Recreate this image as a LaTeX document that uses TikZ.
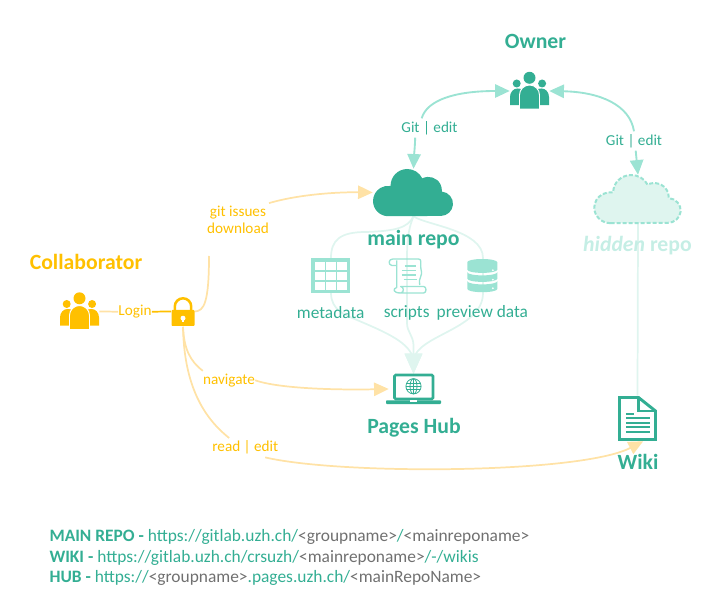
\documentclass[tikz,border=0pt]{standalone}
\usepackage{fontspec}
\setmainfont{Carlito}
\usepackage{tikz}
\usetikzlibrary{arrows.meta,backgrounds}

\definecolor{teal1}{HTML}{33AE93}
\definecolor{teal2}{HTML}{9BE3D3}
\definecolor{teal3}{HTML}{DFF5EF}
\definecolor{teal4}{HTML}{C5EEE5}
\definecolor{gold1}{HTML}{FFC000}
\definecolor{gold2}{HTML}{FFE2A6}
\definecolor{grey1}{HTML}{707070}

\tikzset{
    iconbox/.style 2 args={inner sep=0pt, minimum width=#1*.75pt, minimum height=#2*.75pt},
    title/.style={inner sep=0pt, font=\bfseries\fontsize{16.3}{18}\selectfont, text=teal1},
    caption/.style={inner sep=0pt, font=\fontsize{13}{15}\selectfont, text=teal1},
    tag/.style={inner xsep=0pt, inner ysep=2pt, font=\fontsize{11.4}{13}\selectfont, text=teal1},
    goldtag/.style={tag, text=gold1},
    urlline/.style={anchor=west, inner sep=0pt, font=\fontsize{13.05}{15}\selectfont, text=teal1},
    tealarrow/.style={draw=teal2, line width=1.4pt, -{Triangle[length=11pt,width=10pt]}},
    goldarrow/.style={draw=gold2, line width=1.3pt, -{Triangle[length=11pt,width=10pt]}},
    goldline/.style={draw=gold2, line width=1.3pt},
    paleline/.style={draw=teal3, line width=1.3pt},
    palearrow/.style={paleline, -{Triangle[length=15pt,width=13pt]}},
    pics/cloudicon/.style={code={
        \path[pic actions] (-25.3,-23.7) arc (270:81:15.2) arc (181:26:16.7)
            arc (117:-5:13.5) arc (85:-90:12.2) -- cycle;
    }},
    pics/peopleicon/.style={code={
        \path[fill=#1] (0,13.2) circle (6);
        \path[fill=#1] (-12.8,7.5) circle (4) (12.6,7.5) circle (4);
        \path[fill=#1] (-19.5,-14.2) -- (-19.5,-6) .. controls (-19.5,-1) and (-16,2.5) .. (-12,2.5)
            -- (-8,2) -- (-8,-14.2) -- cycle;
        \path[fill=#1] (19.5,-14.2) -- (19.5,-6) .. controls (19.5,-1) and (16,2.5) .. (12,2.5)
            -- (8,2) -- (8,-14.2) -- cycle;
        \path[fill=#1, draw=white, line width=.7pt] (-10,-18) -- (-10,-4) arc (180:0:10) -- (10,-18) -- cycle;
    }},
    pics/lockicon/.style={code={
        \draw[gold1, line width=1.9pt] (-8.2,1) -- (-8.2,5) arc (180:0:8.2) -- (8.2,1);
        \path[fill=gold1, rounded corners=.6pt] (-11.5,-14.5) rectangle (11.5,1.5);
        \path[fill=white] (0,-6.7) circle (2.5);
        \path[fill=white] (-1,-7) rectangle (1,-11);
    }},
    pics/tableicon/.style={code={
        \path[fill=teal2] (-19.5,-17.5) rectangle (19.5,17.5);
        \foreach \i in {0,1,2}
            \foreach \j in {0,1,2}
                \path[fill=white] (-15.5+\i*11.2,5.7-\j*9.7) rectangle ++(9.8,7.9);
    }},
    pics/scrollicon/.style={code={
        \begin{scope}[draw=teal2, line width=1pt, line join=round]
            \draw[teal2] (-14,16.5) -- (12,16.5) .. controls (15,16.5) and (14,12) .. (14,9)
                .. controls (14,5) and (16,3) .. (14,-1) .. controls (12,-4) and (13,-6) .. (13,-9.5);
            \draw[teal2] (-14,16.5) .. controls (-18,16.5) and (-19,11) .. (-15,10) -- (-10,10);
            \draw[teal2] (-10,15) -- (-10,-12) .. controls (-14,-13) and (-14,-17.5) .. (-6,-17.5)
                -- (17,-17.5) .. controls (20,-17.5) and (20,-11) .. (17,-11) -- (-6,-11)
                .. controls (-3,-11) and (-2,-17) .. (-6,-17.5);
            \foreach \ypos/\xa/\xb in {9.5/-2/9, 5/-5/9, 0.5/-5/9, -4/-3/10}
                \draw[teal2, line width=.8pt] (\xa,\ypos) -- (\xb,\ypos);
        \end{scope}
    }},
    pics/dbicon/.style={code={
        \path[fill=teal2] (-15,13.5) arc (180:0:15 and 3.2) -- (15,6) arc (0:-180:15 and 3.2) -- cycle;
        \path[fill=teal2] (-15,3.5) arc (180:360:15 and 3.2) -- (15,-3) arc (0:-180:15 and 3.2) -- cycle;
        \path[fill=teal2] (-15,-5.5) arc (180:360:15 and 3.2) -- (15,-13.3) arc (0:-180:15 and 3.2) -- cycle;
        \path[fill=white] (10.5,5.5) circle (1) (10.5,-4) circle (1) (10.5,-12.5) circle (1);
    }},
    pics/laptopicon/.style={code={
        \draw[teal1, line width=2pt, rounded corners=1pt] (-19,14) rectangle (19.5,-10);
        \path[fill=teal1, rounded corners=.6pt] (-27.5,-11.3) rectangle (27.5,-15);
        \path[fill=white] (-3.5,-11.3) rectangle (3.5,-12.8);
        \begin{scope}[teal1, line width=.6pt]
            \draw (0,2.7) circle (7.6);
            \draw (0,2.7) ellipse (3.5 and 7.6);
            \draw (0,-4.9) -- (0,10.3) (-7.6,2.7) -- (7.6,2.7);
            \draw (-6.8,6) -- (6.8,6) (-6.8,-.6) -- (6.8,-.6);
        \end{scope}
    }},
    pics/docicon/.style={code={
        \draw[teal1, line width=2.2pt, line join=miter] (-18,21) -- (1,21) -- (18,7.5) -- (18,-21) -- (-18,-21) -- cycle;
        \draw[teal1, line width=2.2pt] (1,21) -- (1,7.5) -- (18,7.5);
        \draw[teal1, line width=1.5pt] (-11.7,5) -- (-4,5);
        \foreach \ypos in {.7,-4,-8.3,-13}
            \draw[teal1, line width=1.5pt] (-11.7,\ypos) -- (12.7,\ypos);
    }},
}

\begin{document}
\begin{tikzpicture}[x=.75pt, y=.75pt]
    \useasboundingbox (0,0) rectangle (724,611);

    % icons
    \node[iconbox={39}{36}] (owner) at (529.5,520) {};
    \node[iconbox={81}{47}] (maincloud) at (413.5,418.5) {};
    \node[iconbox={88}{48}] (hiddencloud) at (638,412) {};
    \node[iconbox={39}{35}] (metatable) at (330.5,335) {};
    \node[iconbox={39}{35}] (scriptscroll) at (406.7,335.5) {};
    \node[iconbox={30}{33}] (previewdb) at (482.3,335.3) {};
    \node[iconbox={49}{30}] (laptop) at (413.5,222) {};
    \node[iconbox={39}{45}] (wikidoc) at (637.5,192.5) {};
    \node[iconbox={39}{36}] (collab) at (79.5,299.5) {};
    \node[iconbox={23}{30}] (lock) at (183,299.5) {};

    % texts
    \node[title] (ownerlabel) at (535.5,569.5) {Owner};
    \node[title] (mainlabel) at (413.5,371) {main repo};
    \node[title, text=teal4] (hiddenlabel) at (637.5,365) {\textit{hidden} repo};
    \node[title] (hublabel) at (414,183.5) {Pages Hub};
    \node[title] (wikilabel) at (638,149) {Wiki};
    \node[title, text=gold1] (collablabel) at (86,349) {Collaborator};
    \node[caption] (metalabel) at (330.7,298.5) {metadata};
    \node[caption] (scriptlabel) at (406.7,298.5) {scripts};
    \node[caption] (previewlabel) at (482.3,298.5) {preview data};
    \node[tag] (gitleft) at (429.5,483) {Git | edit};
    \node[tag] (gitright) at (634,470) {Git | edit};
    \node[goldtag] (loginlabel) at (135,299.3) {Login};
    \node[goldtag, align=center] (gitlabel) at (238,391) {git issues\\download};
    \node[goldtag] (navlabel) at (229,230.7) {navigate};
    \node[goldtag] (readlabel) at (245.3,163.3) {read | edit};
    \coordinate (gitin) at (209,355);

    \node[urlline] (mainurl) at (49.3,74.5) {\textbf{MAIN REPO -} https://gitlab.uzh.ch/\textcolor{grey1}{<groupname>}/\textcolor{grey1}{<mainreponame>}};
    \node[urlline] (wikiurl) at (49.3,53.5) {\textbf{WIKI -} https://gitlab.uzh.ch/crsuzh/\textcolor{grey1}{<mainreponame>}/-/wikis};
    \node[urlline] (huburl) at (49.3,32.7) {\textbf{HUB -} https://\textcolor{grey1}{<groupname>}.pages.uzh.ch/\textcolor{grey1}{<mainRepoName>}};

    % connectors
    \begin{scope}[on background layer]
        \draw[paleline] (hiddencloud.south) -- (wikidoc.north);
        \draw[palearrow] (maincloud.south) .. controls (408,383) and (395,380) .. (366,379)
            .. controls (340,379) and (331,371) .. (331,353) -- (331,318)
            .. controls (331,301) and (345,296) .. (357,291)
            .. controls (385,279) and (412,268) .. (413.5,250) -- (laptop.north);
        \draw[palearrow] (maincloud.south) .. controls (410,386) and (407,376) .. (407,353)
            -- (407,288) .. controls (407,279) and (413,276) .. (413.5,266) -- (laptop.north);
        \draw[palearrow] (maincloud.south) .. controls (425,386) and (483,381) .. (483,353)
            -- (483,318) .. controls (483,281) and (415,276) .. (413.5,250) -- (laptop.north);

        \draw[tealarrow] (gitleft.129) .. controls (427,511) and (455,520) .. (owner.west);
        \draw[tealarrow] (gitleft.214) .. controls (415,465) and (414,455) .. (maincloud.north);
        \draw[tealarrow] (gitright.north) .. controls (630,506) and (600,519) .. (owner.east);
        \draw[tealarrow] (gitright.-80) -- (hiddencloud.north);

        \draw[goldline] (collab.east) -- (loginlabel.west);
        \draw[gold1, line width=1.3pt] (loginlabel.east) -- (lock.west);
        \draw[goldline] (lock.east) .. controls (204,300) and (209,308) .. (gitin);
        \draw[goldarrow] (gitlabel.north east) .. controls (300,417) and (340,419) .. (maincloud.west);
        \draw[goldline] (lock.south) .. controls (184,262) and (190,250) .. (navlabel.north west);
        \draw[goldarrow] (navlabel.east) .. controls (280,222) and (340,221) .. (laptop.west);
        \draw[goldline] (lock.south) .. controls (184,231) and (200,196) .. (readlabel.149);
        \draw[goldarrow] (readlabel.-26) .. controls (340,136) and (580,137) .. (wikidoc.-76);
    \end{scope}

    \pic at (owner) {peopleicon=teal1};
    \pic[fill=teal1] at (maincloud) {cloudicon};
    \pic[xscale=1.08, yscale=1.02, fill=teal3, draw=teal2, line width=1.5pt, dash pattern=on 3pt off 1.5pt] at (hiddencloud) {cloudicon};
    \pic at (metatable) {tableicon};
    \pic at (scriptscroll) {scrollicon};
    \pic at (previewdb) {dbicon};
    \pic at (laptop) {laptopicon};
    \pic at (wikidoc) {docicon};
    \pic at (collab) {peopleicon=gold1};
    \pic at (lock) {lockicon};
\end{tikzpicture}
\end{document}
